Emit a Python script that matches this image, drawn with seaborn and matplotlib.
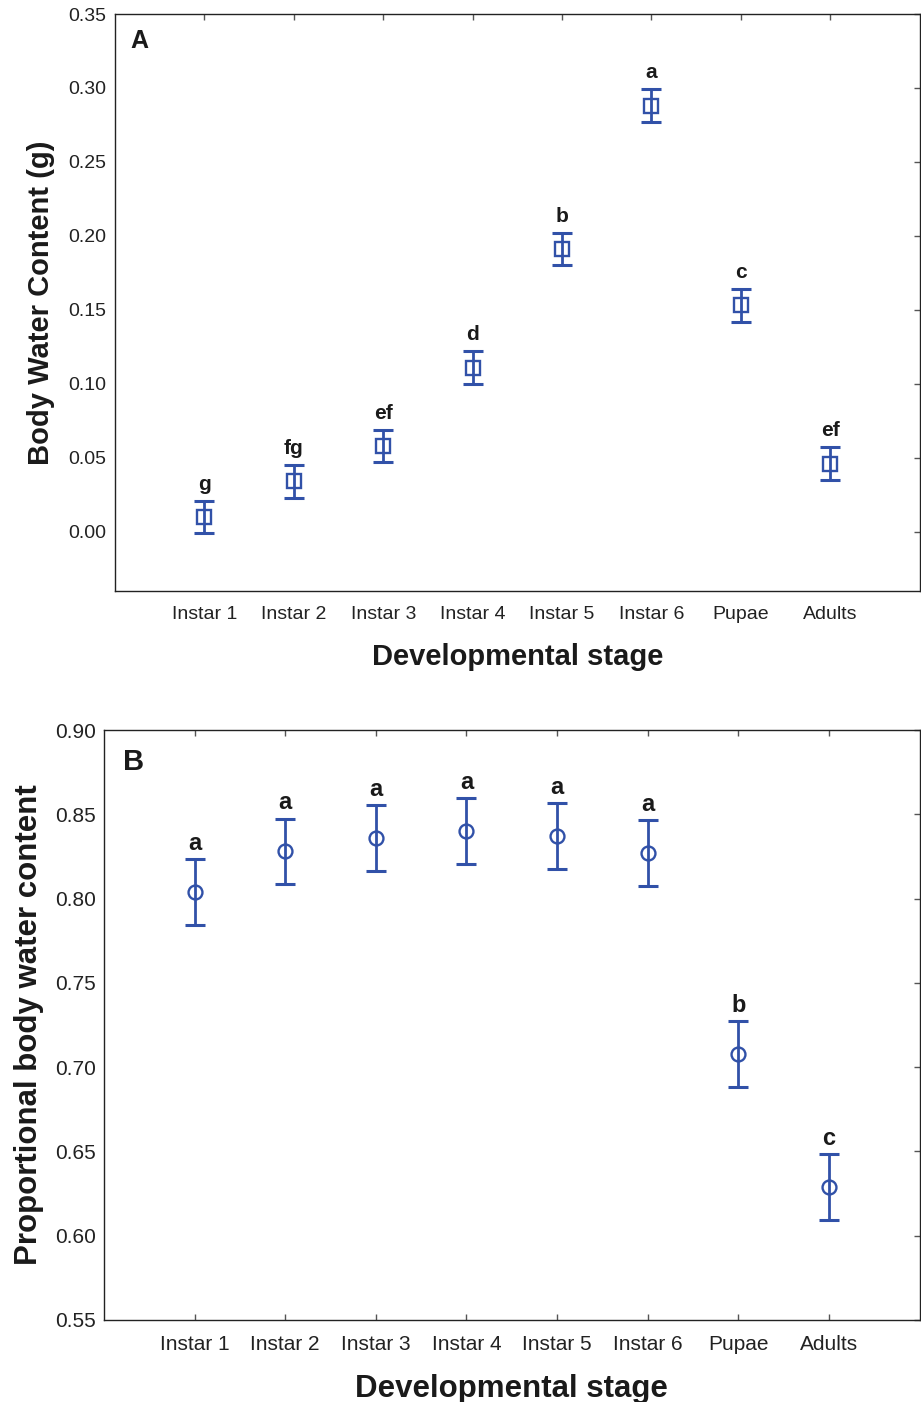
import matplotlib
matplotlib.use("Agg")
import matplotlib.pyplot as plt
import numpy as np
import pandas as pd
import seaborn as sns

STAGES = ["Instar 1", "Instar 2", "Instar 3", "Instar 4", "Instar 5", "Instar 6", "Pupae", "Adults"]

WATER_MEAN = [0.010, 0.034, 0.058, 0.111, 0.191, 0.288, 0.153, 0.046]
WATER_ERR = [0.011, 0.011, 0.011, 0.011, 0.011, 0.011, 0.011, 0.011]
WATER_LETTERS = ["g", "fg", "ef", "d", "b", "a", "c", "ef"]

PROP_MEAN = [0.804, 0.828, 0.836, 0.840, 0.837, 0.827, 0.708, 0.629]
PROP_ERR = [0.0195, 0.0195, 0.0195, 0.0195, 0.0195, 0.0195, 0.0195, 0.0195]
PROP_LETTERS = ["a", "a", "a", "a", "a", "a", "b", "c"]

BLUE = "#3151a8"

sns.set_style("ticks")
plt.rcParams["font.family"] = ["Liberation Sans", "DejaVu Sans"]
plt.rcParams["axes.linewidth"] = 1.0


def draw_panel(ax, means, errs, letters, marker, ylim, yticks, label,
               tick_fs, label_fs, letter_fs, panel_fs, letter_off, panel_xy,
               bottom_ticks, ylabelpad):
    df = pd.DataFrame({"stage": STAGES, "value": means})
    sns.pointplot(
        data=df, x="stage", y="value", order=STAGES, errorbar=None,
        linestyle="none", marker=marker, color=BLUE, markersize=10,
        markerfacecolor="none", markeredgewidth=1.7, ax=ax,
    )
    ax.errorbar(
        np.arange(len(STAGES)), means, yerr=errs, fmt="none",
        ecolor=BLUE, elinewidth=2.0, capsize=7.5, capthick=2.2,
    )
    for i, (m, e, t) in enumerate(zip(means, errs, letters)):
        ax.text(i, m + e + letter_off, t, ha="center", va="baseline",
                fontsize=letter_fs, fontweight="bold", color="#1a1a1a")

    ax.set_xlim(-1, 8)
    ax.set_ylim(*ylim)
    ax.set_yticks(yticks)
    ax.set_yticklabels([f"{v:.2f}" for v in yticks])
    for side in ["top", "right", "left", "bottom"]:
        ax.spines[side].set_visible(True)
        ax.spines[side].set_color("#222222")
    ax.tick_params(axis="both", direction="in", length=4, width=1,
                   color="#555555", labelsize=tick_fs, labelcolor="#222222",
                   top=True, right=True, left=False, bottom=bottom_ticks)
    ax.tick_params(axis="x", pad=11)
    ax.tick_params(axis="y", pad=6)
    ax.set_xlabel("Developmental stage", fontsize=label_fs, fontweight="bold",
                  labelpad=14, color="#1a1a1a")
    ax.set_ylabel(label, fontsize=label_fs, fontweight="bold",
                  labelpad=ylabelpad, color="#1a1a1a")
    ax.text(panel_xy[0], panel_xy[1], "A" if marker == "s" else "B",
            transform=ax.transAxes, ha="left", va="top",
            fontsize=panel_fs, fontweight="bold", color="#1a1a1a")


fig = plt.figure(figsize=(9.21, 14.02), dpi=100)
ax1 = fig.add_axes([0.1249, 0.5785, 0.8735, 0.4115])
ax2 = fig.add_axes([0.1129, 0.0585, 0.8855, 0.4208])

draw_panel(ax1, WATER_MEAN, WATER_ERR, WATER_LETTERS, "s", (-0.04, 0.35),
           np.arange(0, 0.36, 0.05), "Body Water Content (g)",
           14, 21, 15, 18, 0.0075, (0.019, 0.974), False, 10)
draw_panel(ax2, PROP_MEAN, PROP_ERR, PROP_LETTERS, "o", (0.55, 0.90),
           np.arange(0.55, 0.91, 0.05), "Proportional body water content",
           15, 22.5, 17, 21, 0.0055, (0.023, 0.970), True, 8)

fig.savefig("out.png", dpi=100)
